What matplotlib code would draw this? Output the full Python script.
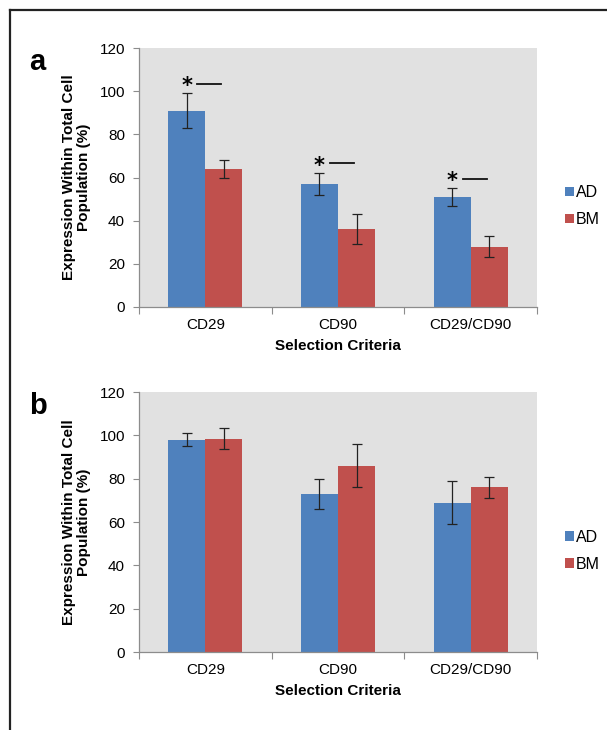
import numpy as np
import matplotlib
matplotlib.use('Agg')
import matplotlib.pyplot as plt
from matplotlib.lines import Line2D

plt.rcParams['font.family'] = ['Liberation Sans', 'DejaVu Sans']

# Data
categories = ['CD29', 'CD90', 'CD29/CD90']
a_ad = [91, 57, 51]
a_ad_err = [8, 5, 4]
a_bm = [64, 36, 28]
a_bm_err = [4, 7, 5]
a_signif = [True, True, True]

b_ad = [98, 73, 69]
b_ad_err = [3, 7, 10]
b_bm = [98.5, 86, 76]
b_bm_err = [5, 10, 5]
b_signif = [False, False, False]

blue = '#4f81bd'
red = '#c0504d'
axis_grey = '#8c8c8c'
width = 0.28

fig = plt.figure(figsize=(6.07, 7.3), dpi=100)

# outer frame (top and left border lines)
fig.add_artist(Line2D([10 / 607, 1], [1 - 10 / 730, 1 - 10 / 730], color='#222222', lw=1.6))
fig.add_artist(Line2D([10 / 607, 10 / 607], [0, 1 - 10 / 730], color='#222222', lw=1.6))


def draw_panel(rect, ad, ad_err, bm, bm_err, signif, letter):
    ax = fig.add_axes(rect)
    ax.set_facecolor('#e1e1e1')
    x = np.arange(len(categories))
    ekw = dict(ecolor='#222222', elinewidth=0.9, capsize=3.5, capthick=0.9)
    ax.bar(x - width / 2, ad, width, color=blue, label='AD', yerr=ad_err, error_kw=ekw)
    ax.bar(x + width / 2, bm, width, color=red, label='BM', yerr=bm_err, error_kw=ekw)

    for i, s in enumerate(signif):
        if s:
            ys = ad[i] + ad_err[i] + 3.5
            ax.text(x[i] - width / 2, ys, '*', fontsize=15, fontweight='bold',
                    ha='center', va='center', family='DejaVu Sans')
            ax.plot([x[i] - width / 2 + 0.08, x[i] - width / 2 + 0.26], [ys + 1, ys + 1],
                    color='#111111', lw=1.3)

    ax.set_xlim(-0.5, len(categories) - 0.5)
    ax.set_ylim(0, 120)
    ax.set_yticks(range(0, 121, 20))
    ax.set_xticks(np.arange(-0.5, len(categories), 1))
    ax.set_xticklabels([])
    ax.set_xticks(x, minor=True)
    ax.set_xticklabels(categories, minor=True, fontsize=11)
    ax.tick_params(axis='x', which='minor', length=0, pad=8)
    ax.tick_params(axis='x', which='major', length=5, color=axis_grey)
    ax.tick_params(axis='y', length=4, color=axis_grey, labelsize=11, pad=6)
    for side in ['top', 'right']:
        ax.spines[side].set_visible(False)
    for side in ['left', 'bottom']:
        ax.spines[side].set_color(axis_grey)
        ax.spines[side].set_linewidth(0.9)

    ax.set_xlabel('Selection Criteria', fontsize=11, fontweight='bold', labelpad=5)
    ax.set_ylabel('Expression Within Total Cell\nPopulation (%)', fontsize=11,
                  fontweight='bold', labelpad=6, linespacing=1.1)
    ax.legend(loc='center left', bbox_to_anchor=(1.035, 0.39), frameon=False,
              handlelength=0.55, handleheight=0.55, handletextpad=0.1,
              labelspacing=0.75, fontsize=11.5)
    ax.text(-0.255, 1.0, letter, transform=ax.transAxes, fontsize=21,
            fontweight='bold', ha='center', va='top')
    return ax


draw_panel([139 / 607, 1 - 307 / 730, 398 / 607, 259 / 730],
           a_ad, a_ad_err, a_bm, a_bm_err, a_signif, 'a')
draw_panel([139 / 607, 1 - 652 / 730, 398 / 607, 260 / 730],
           b_ad, b_ad_err, b_bm, b_bm_err, b_signif, 'b')

fig.savefig('out.png', dpi=100)
